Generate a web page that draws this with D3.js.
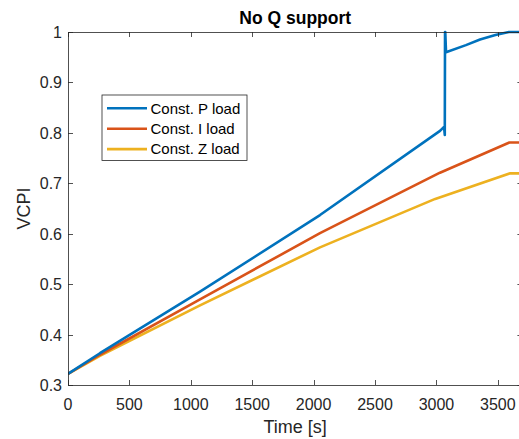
<!DOCTYPE html>
<html>
<head>
  <meta charset="utf-8">
  <script src="https://d3js.org/d3.v7.min.js"></script>
  <title>No Q support</title>
  <style>
    body { margin: 0; background: #fff; }
    text { font-family: "Liberation Sans", Arial, sans-serif; fill: #262626; }
  </style>
</head>
<body>
<div class="chart"></div>
<script>
  // time [s] and VCPI values
  var timeP = [0, 260, 1075, 2052, 3029, 3062, 3068, 3070, 3072, 3078, 3240, 3355, 3480, 3590, 3700];
  var vcpiP = [0.322, 0.363, 0.485, 0.637, 0.804, 0.812, 0.796, 1.0, 1.0, 0.96, 0.974, 0.985, 0.994, 1.0, 1.0];

  var timeI = [0, 260, 1075, 2052, 3029, 3594, 3700];
  var vcpiI = [0.322, 0.360, 0.470, 0.601, 0.721, 0.781, 0.781];

  var timeZ = [0, 260, 1075, 2052, 2990, 3600, 3700];
  var vcpiZ = [0.322, 0.358, 0.458, 0.573, 0.669, 0.7197, 0.7197];

  var seriesNames = ['Const. P load', 'Const. I load', 'Const. Z load'];
  var seriesColors = ['#0072BD', '#D95319', '#EDB120'];

  var xTicks = [0, 500, 1000, 1500, 2000, 2500, 3000, 3500];
  var yTicks = [0.3, 0.4, 0.5, 0.6, 0.7, 0.8, 0.9, 1];

  (function() {
    var width = 519, height = 439;
    var pl = 68, pr = 522.4, pt = 32, pb = 385;

    var x = d3.scaleLinear().domain([0, 3700]).range([pl, pr]);
    var y = d3.scaleLinear().domain([0.3, 1]).range([pb, pt]);

    var svg = d3.select('.chart').append('svg')
      .attr('width', width)
      .attr('height', height);

    svg.append('defs').append('clipPath').attr('id', 'clip')
      .append('rect')
      .attr('x', pl).attr('y', pt - 2)
      .attr('width', pr - pl).attr('height', pb - pt + 2);

    // series lines
    function toPoints(t, v) {
      return t.map(function(d, i) { return [d, v[i]]; });
    }
    var series = [toPoints(timeP, vcpiP), toPoints(timeI, vcpiI), toPoints(timeZ, vcpiZ)];

    var line = d3.line()
      .x(function(d) { return x(d[0]); })
      .y(function(d) { return y(d[1]); });

    var plot = svg.append('g').attr('clip-path', 'url(#clip)');
    // Z first, then I, then P on top
    [2, 1, 0].forEach(function(i) {
      plot.append('path')
        .datum(series[i])
        .attr('d', line)
        .attr('fill', 'none')
        .attr('stroke', seriesColors[i])
        .attr('stroke-width', 2.6)
        .attr('stroke-linejoin', 'round');
    });

    // axes, MATLAB style box with inward ticks
    var axisColor = '#262626';
    var tickLen = 5;
    var axes = svg.append('g');

    axes.append('rect')
      .attr('x', pl + 0.5).attr('y', pt + 0.5)
      .attr('width', pr - pl).attr('height', pb - pt)
      .attr('fill', 'none')
      .attr('stroke', axisColor)
      .attr('stroke-width', 0.8);

    xTicks.forEach(function(t) {
      var px = Math.round(x(t)) + 0.5;
      axes.append('line').attr('x1', px).attr('x2', px)
        .attr('y1', pb).attr('y2', pb - tickLen)
        .attr('stroke', axisColor).attr('stroke-width', 0.8);
      axes.append('line').attr('x1', px).attr('x2', px)
        .attr('y1', pt).attr('y2', pt + tickLen)
        .attr('stroke', axisColor).attr('stroke-width', 0.8);
      axes.append('text')
        .attr('x', x(t)).attr('y', pb + 24.5)
        .attr('text-anchor', 'middle')
        .style('font-size', '16px')
        .text(t);
    });

    yTicks.forEach(function(v) {
      var py = Math.round(y(v)) + 0.5;
      axes.append('line').attr('x1', pl).attr('x2', pl + tickLen)
        .attr('y1', py).attr('y2', py)
        .attr('stroke', axisColor).attr('stroke-width', 0.8);
      axes.append('line').attr('x1', pr).attr('x2', pr - tickLen)
        .attr('y1', py).attr('y2', py)
        .attr('stroke', axisColor).attr('stroke-width', 0.8);
      axes.append('text')
        .attr('x', 62).attr('y', y(v) + 6)
        .attr('text-anchor', 'end')
        .style('font-size', '16px')
        .text(v);
    });

    // labels
    svg.append('text')
      .attr('x', (pl + pr) / 2).attr('y', 24)
      .attr('text-anchor', 'middle')
      .style('font-size', '17.5px')
      .style('font-weight', 'bold')
      .style('fill', '#000')
      .text('No Q support');

    svg.append('text')
      .attr('x', (pl + pr) / 2).attr('y', 433)
      .attr('text-anchor', 'middle')
      .style('font-size', '18px')
      .text('Time [s]');

    svg.append('text')
      .attr('transform', 'translate(29.5,' + ((pt + pb) / 2) + ') rotate(-90)')
      .attr('text-anchor', 'middle')
      .style('font-size', '18px')
      .text('VCPI');

    // legend
    var legend = svg.append('g').attr('transform', 'translate(102,95)');
    legend.append('rect')
      .attr('x', 0).attr('y', 0)
      .attr('width', 145).attr('height', 65.5)
      .attr('fill', '#fff')
      .attr('stroke', axisColor)
      .attr('stroke-width', 0.8);
    seriesNames.forEach(function(name, i) {
      var ly = 13.3 + i * 20.4;
      legend.append('line')
        .attr('x1', 5).attr('x2', 45)
        .attr('y1', ly).attr('y2', ly)
        .attr('stroke', seriesColors[i])
        .attr('stroke-width', 2.6);
      legend.append('text')
        .attr('x', 48.5).attr('y', ly + 5.3)
        .style('font-size', '15px')
        .style('fill', '#000')
        .text(name);
    });
  })();
</script>
</body>
</html>
